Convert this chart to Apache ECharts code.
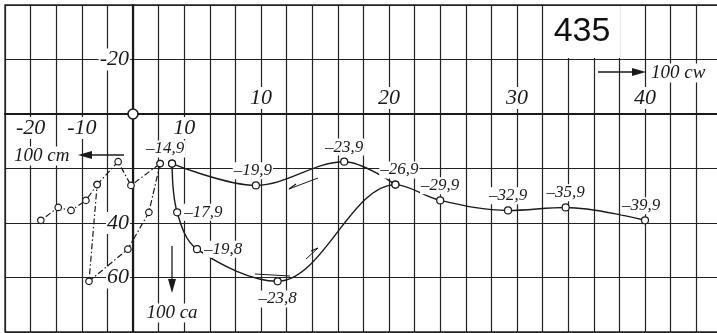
<!DOCTYPE html>
<html>
<head>
<meta charset="utf-8">
<script src="https://cdn.jsdelivr.net/npm/echarts@6/dist/echarts.min.js"></script>
<style>
  html, body { margin: 0; padding: 0; background: #fff; }
  #chart { width: 717px; height: 333px; }
</style>
</head>
<body>
<div id="chart"></div>
<script>
// angle of attack, increasing run (lower branch) then the return (upper branch)
const alphaUp = [-14.9, -17.9, -19.8, -23.8, -26.9, -29.9, -32.9, -35.9, -39.9];
const cwUp    = [3.05, 3.45, 5.0, 11.3, 20.5, 24.0, 29.3, 33.8, 40.0];
const caUp    = [18.2, 36.1, 49.6, 61.4, 25.9, 31.7, 35.4, 34.3, 39.0];
const cmUp    = [5.3, 3.1, -1.0, -8.6, -7.0, -9.2, -12.1, -14.6, -18.0];

const alphaDown = [-26.9, -23.9, -19.9, -14.9];
const cwDown    = [20.5, 16.5, 9.6, 3.05];
const caDown    = [25.9, 17.5, 26.2, 18.2];
const cmDown    = [-7.0, -2.9, -0.4, 5.3];

const cwTicks = [10, 20, 30, 40];
const cmTicks = [-20, -10, 10];
const caTicks = [-20, 40, 60];

const serif = '"Liberation Serif", "DejaVu Serif", serif';
const ink = '#1a1a1a';

const fmtAlpha = a => '\u2013' + Math.abs(a).toFixed(1).replace('.', ',');

// where each angle label sits (default: above the point)
const labelSide = { '-17.9': 'right', '-19.8': 'right', '-23.8': 'bottom' };
const labelShift = { '-14.9': [-7, 0], '-39.9': [-4, 0], '-19.9': [-3, 0], '-26.9': [4, 0], '-23.8': [0, 3] };

function polarData(cw, ca, alpha, skip) {
  return cw.map((v, i) => {
    const key = String(alpha[i]);
    const hide = skip.indexOf(alpha[i]) >= 0;
    return {
      value: [v, ca[i], alpha[i]],
      label: {
        show: !hide,
        position: labelSide[key] || 'top',
        offset: labelShift[key] || [0, 0],
        distance: 2
      }
    };
  });
}

// grid geometry: axes cross at cw = 0 / ca = 0, inside the plot
const G = { left: 5, top: 5, width: 716.8, height: 327 };
const xMin = -10, xMax = 46, yMin = -40, yMax = 80;
const zeroY = G.top + (0 - yMin) / (yMax - yMin) * G.height;
const zeroX = G.left + (0 - xMin) / (xMax - xMin) * G.width;
const xOffset = -(G.top + G.height - zeroY);
const yOffset = -(zeroX - G.left);

const pointStyle = { color: '#fff', borderColor: ink, borderWidth: 1.2, opacity: 1 };
const angleLabel = {
  formatter: p => fmtAlpha(p.value[2]),
  fontFamily: serif, fontStyle: 'italic', fontSize: 17, color: ink,
  backgroundColor: '#fff', padding: [0, 1]
};
const tickFont = { fontFamily: serif, fontStyle: 'italic', fontSize: 22, color: ink, backgroundColor: '#fff', padding: [0, 1] };
const gridLine = { color: '#222', width: 1.2 };
const dashDot = { color: ink, width: 1.2, type: [6, 2.5, 1.5, 2.5] };

const chart = echarts.init(document.getElementById('chart'));
chart.setOption({
  animation: false,
  backgroundColor: '#fff',
  grid: Object.assign({ containLabel: false, outerBoundsMode: 'none', show: true, borderColor: '#222', borderWidth: 1.3 }, G),
  xAxis: [
    {
      type: 'value', min: xMin, max: xMax, interval: 2, position: 'bottom', offset: xOffset,
      axisLine: { show: true, onZero: false, lineStyle: { color: ink, width: 2.2 } },
      axisTick: { show: false },
      axisLabel: Object.assign({ inside: true, margin: 5, customValues: cwTicks }, tickFont),
      splitLine: { show: true, lineStyle: gridLine }
    },
    {
      type: 'value', min: -25, max: 115, interval: 10, position: 'bottom', offset: xOffset,
      axisLine: { show: false, onZero: false },
      axisTick: { show: false },
      axisLabel: Object.assign({ margin: 3, customValues: cmTicks }, tickFont),
      splitLine: { show: false }
    }
  ],
  yAxis: [
    {
      type: 'value', min: yMin, max: yMax, interval: 20, inverse: true, position: 'left', offset: yOffset,
      axisLine: { show: true, onZero: false, lineStyle: { color: ink, width: 2.2 } },
      axisTick: { show: false },
      axisLabel: Object.assign({ margin: 3, customValues: caTicks }, tickFont),
      splitLine: { show: true, lineStyle: gridLine }
    }
  ],
  series: [
    {
      name: 'polar up', type: 'line', xAxisIndex: 0, yAxisIndex: 0,
      data: polarData(cwUp, caUp, alphaUp, []),
      smooth: 0.35, symbol: 'circle', symbolSize: 7,
      lineStyle: { color: ink, width: 1.4 }, itemStyle: pointStyle,
      label: angleLabel, z: 5
    },
    {
      name: 'polar down', type: 'line', xAxisIndex: 0, yAxisIndex: 0,
      data: polarData(cwDown, caDown, alphaDown, [-26.9, -14.9]),
      smooth: 0.35, symbol: 'circle', symbolSize: 7,
      lineStyle: { color: ink, width: 1.4 }, itemStyle: pointStyle,
      label: angleLabel, z: 5
    },
    {
      name: 'cm up', type: 'line', xAxisIndex: 1, yAxisIndex: 0,
      data: cmUp.map((v, i) => [v, caUp[i]]),
      symbol: 'circle', symbolSize: 6.5,
      lineStyle: dashDot, itemStyle: pointStyle, z: 4
    },
    {
      name: 'cm down', type: 'line', xAxisIndex: 1, yAxisIndex: 0,
      data: cmDown.map((v, i) => [v, caDown[i]]),
      symbol: 'circle', symbolSize: 6.5,
      lineStyle: dashDot, itemStyle: pointStyle, z: 4
    },
    {
      name: 'origin', type: 'scatter', xAxisIndex: 0, yAxisIndex: 0,
      data: [[0, 0]], symbol: 'circle', symbolSize: 10,
      itemStyle: { color: '#fff', borderColor: ink, borderWidth: 1.6, opacity: 1 }, z: 6
    }
  ],
  graphic: [
    { type: 'rect', shape: { x: 544, y: 6, width: 76, height: 52 }, style: { fill: '#fff' }, z: 50 },
    { type: 'text', x: 582, y: 32, z: 51,
      style: { text: '435', fontFamily: '"Liberation Sans", Arial, sans-serif', fontSize: 34, fill: '#111', align: 'center', verticalAlign: 'middle' } },

    // 100 cm arrow (left)
    { type: 'text', x: 12, y: 156, z: 51,
      style: { text: '100 cm', fontFamily: serif, fontStyle: 'italic', fontSize: 19, fill: ink, verticalAlign: 'middle', backgroundColor: '#fff', padding: [0, 2] } },
    { type: 'line', z: 51, shape: { x1: 124, y1: 155, x2: 88, y2: 155 }, style: { stroke: ink, lineWidth: 1.3 } },
    { type: 'polygon', z: 51, shape: { points: [[78, 155], [92, 151], [92, 159]] }, style: { fill: ink } },

    // 100 cw arrow (right)
    { type: 'line', z: 51, shape: { x1: 598, y1: 72, x2: 636, y2: 72 }, style: { stroke: ink, lineWidth: 1.3 } },
    { type: 'polygon', z: 51, shape: { points: [[646, 72], [632, 68], [632, 76]] }, style: { fill: ink } },
    { type: 'text', x: 649, y: 73, z: 51,
      style: { text: '100 cw', fontFamily: serif, fontStyle: 'italic', fontSize: 19, fill: ink, verticalAlign: 'middle', backgroundColor: '#fff', padding: [0, 2] } },

    // 100 ca arrow (down)
    { type: 'line', z: 51, shape: { x1: 172, y1: 246, x2: 172, y2: 282 }, style: { stroke: ink, lineWidth: 1.3 } },
    { type: 'polygon', z: 51, shape: { points: [[172, 293], [168, 279], [176, 279]] }, style: { fill: ink } },
    { type: 'text', x: 172, y: 313, z: 51,
      style: { text: '100 ca', fontFamily: serif, fontStyle: 'italic', fontSize: 19, fill: ink, align: 'center', verticalAlign: 'middle', backgroundColor: '#fff', padding: [0, 2] } },

    // direction arrows on the loop
    { type: 'line', z: 51, shape: { x1: 318, y1: 178, x2: 289, y2: 189 }, style: { stroke: ink, lineWidth: 1 } },
    { type: 'line', z: 51, shape: { x1: 289, y1: 189, x2: 296, y2: 184 }, style: { stroke: ink, lineWidth: 1.2 } },
    { type: 'line', z: 51, shape: { x1: 306, y1: 259, x2: 318, y2: 248 }, style: { stroke: ink, lineWidth: 1 } },
    { type: 'line', z: 51, shape: { x1: 318, y1: 248, x2: 311, y2: 251 }, style: { stroke: ink, lineWidth: 1.2 } },
    { type: 'line', z: 51, shape: { x1: 255, y1: 274, x2: 290, y2: 276 }, style: { stroke: ink, lineWidth: 1 } }
  ]
});
</script>
</body>
</html>
